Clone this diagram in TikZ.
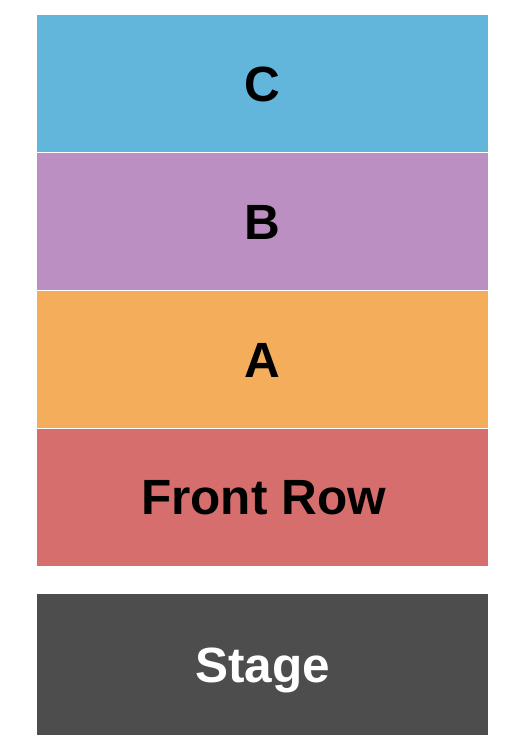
\documentclass[tikz,border=0pt]{standalone}
\usepackage{fontspec}
\setmainfont{Liberation Sans}
\definecolor{secC}{RGB}{99,182,219}
\definecolor{secB}{RGB}{188,143,194}
\definecolor{secA}{RGB}{243,173,91}
\definecolor{secF}{RGB}{214,110,110}
\definecolor{secS}{RGB}{77,77,77}
\begin{document}
\begin{tikzpicture}[x=1pt,y=-1pt,
  block/.style={inner sep=0pt, outer sep=0pt},
  lbl/.style={anchor=base, inner sep=0pt, font=\fontsize{49.5}{58}\selectfont\bfseries}]
\useasboundingbox (0,0) rectangle (525,750);
\fill[white] (0,0) rectangle (525,750);
\fill[secC] (37,15) rectangle (488,152);
\fill[secB] (37,153) rectangle (488,290);
\fill[secA] (37,291) rectangle (488,428);
\fill[secF] (37,429) rectangle (488,566);
\fill[secS] (37,594) rectangle (488,735);
\node[lbl, text=black] (tC) at (262.5,101) {C};
\node[lbl, text=black] (tB) at (262.5,239) {B};
\node[lbl, text=black] (tA) at (262.5,377) {A};
\node[lbl, text=black] (tF) at (263.5,514) {Front Row};
\node[lbl, text=white] (tS) at (262.5,682) {Stage};
\end{tikzpicture}
\end{document}
